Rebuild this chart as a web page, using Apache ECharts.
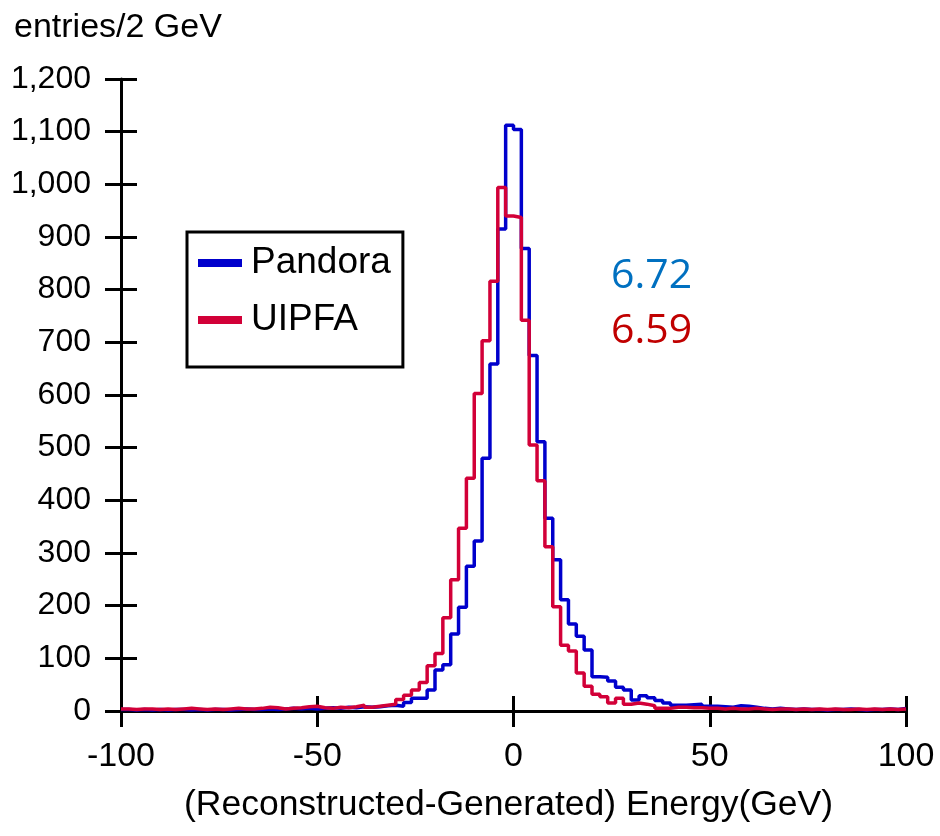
<!DOCTYPE html>
<html>
<head>
<meta charset="utf-8">
<script src="https://cdn.jsdelivr.net/npm/echarts@6/dist/echarts.min.js"></script>
<style>html,body{margin:0;padding:0;background:#fff;}#main{width:940px;height:836px;}</style>
</head>
<body>
<div id="main"></div>
<script>
// Histogram: 2 GeV bins from -100 to 100 GeV
const binStart = -100;
const binWidth = 2;
const xTicks = [-100, -50, 0, 50, 100];
const yTicks = [0, 100, 200, 300, 400, 500, 600, 700, 800, 900, 1000, 1100, 1200];
const seriesNames = ['Pandora', 'UIPFA'];
const resolutions = ['6.72', '6.59'];

const pandora = [
  3, 2, 3, 2, 3, 2, 3, 3, 2, 3,
  2, 3, 3, 2, 3, 4, 3, 3, 4, 3,
  4, 5, 4, 5, 4, 5, 6, 5, 7, 6,
  8, 7, 8, 10, 11, 9, 16, 24, 24, 40,
  78, 88, 146, 197, 275, 323, 480, 659, 915, 1112,
  1104, 878, 675, 511, 366, 287, 211, 165, 142, 116,
  65, 64, 57, 45, 40, 21, 29, 25, 20, 15,
  11, 11, 12, 13, 9, 9, 8, 7, 10, 9,
  7, 5, 4, 5, 4, 3, 4, 3, 3, 2,
  3, 3, 4, 3, 2, 3, 3, 4, 3, 5
];
const uipfa = [
  4, 3, 4, 4, 3, 4, 3, 4, 5, 4,
  3, 4, 3, 4, 5, 4, 4, 5, 7, 6,
  4, 5, 6, 8, 9, 6, 5, 7, 6, 8,
  11, 7, 9, 11, 13, 22, 30, 40, 54, 86,
  109, 177, 249, 347, 442, 603, 703, 816, 994, 940,
  937, 742, 505, 437, 312, 198, 125, 114, 72, 47,
  32, 27, 15, 24, 13, 15, 13, 10, 5, 5,
  7, 7, 6, 6, 5, 5, 4, 5, 4, 4,
  5, 4, 3, 4, 4, 3, 4, 3, 4, 3,
  4, 3, 3, 4, 3, 4, 3, 4, 3, 4
];

function stepData(vals) {
  const pts = vals.map((v, i) => [binStart + i * binWidth, v]);
  pts.push([binStart + vals.length * binWidth, vals[vals.length - 1]]);
  return pts;
}

const FONT = 'Liberation Sans, Arial, sans-serif';
const chart = echarts.init(document.getElementById('main'), null, {renderer: 'canvas'});

const baseX = {
  type: 'value', min: xTicks[0], max: xTicks[xTicks.length - 1], interval: 50,
  position: 'bottom', gridIndex: 0,
  splitLine: {show: false},
  axisLine: {show: true, onZero: false, lineStyle: {color: '#000', width: 3}},
  axisTick: {show: true, inside: false, length: 16, lineStyle: {color: '#000', width: 3}},
  axisLabel: {show: true, margin: 29, color: '#000', fontSize: 34, fontFamily: FONT,
    formatter: v => String(v)}
};
const baseY = {
  type: 'value', min: yTicks[0], max: yTicks[yTicks.length - 1], interval: 100,
  position: 'left', gridIndex: 0,
  splitLine: {show: false},
  axisLine: {show: true, onZero: false, lineStyle: {color: '#000', width: 3}},
  axisTick: {show: true, inside: false, length: 16, lineStyle: {color: '#000', width: 3}},
  axisLabel: {show: true, margin: 30, color: '#000', fontSize: 32, fontFamily: FONT,
    formatter: v => v.toLocaleString('en-US')}
};

const option = {
  backgroundColor: '#fff',
  animation: false,
  grid: {left: 121, right: 34, top: 79, bottom: 125, containLabel: false},
  xAxis: [
    Object.assign({}, baseX, {
      name: '(Reconstructed-Generated) Energy(GeV)',
      nameLocation: 'middle', nameGap: 76,
      nameTextStyle: {color: '#000', fontSize: 35.5, fontFamily: FONT, padding: [0, 10, 0, 0]}
    }),
    Object.assign({}, baseX, {
      axisLine: {show: false, onZero: false},
      axisLabel: {show: false},
      axisTick: {show: true, inside: true, length: 15, lineStyle: {color: '#000', width: 3}}
    })
  ],
  yAxis: [
    baseY,
    Object.assign({}, baseY, {
      axisLine: {show: false, onZero: false},
      axisLabel: {show: false},
      axisTick: {show: true, inside: true, length: 16, lineStyle: {color: '#000', width: 3}}
    })
  ],
  legend: {
    orient: 'vertical', left: 187, top: 232,
    borderColor: '#000', borderWidth: 3,
    padding: [7, 12, 23, 11],
    itemWidth: 44, itemHeight: 8, itemGap: 9,
    icon: 'rect',
    textStyle: {color: '#000', fontSize: 37, fontFamily: FONT, lineHeight: 40, padding: [8, 0, 0, 4]},
    data: seriesNames
  },
  graphic: [
    {type: 'text', x: 14, y: 28, style: {text: 'entries/2 GeV', fill: '#000', fontSize: 34, fontFamily: FONT, verticalAlign: 'middle', align: 'left'}},
    {type: 'text', x: 611, y: 276, style: {text: resolutions[0], fill: '#0070C0', fontSize: 41, fontFamily: 'Open Sans, sans-serif', verticalAlign: 'middle', align: 'left'}},
    {type: 'text', x: 611, y: 331, style: {text: resolutions[1], fill: '#C00000', fontSize: 41, fontFamily: 'Open Sans, sans-serif', verticalAlign: 'middle', align: 'left'}}
  ],
  series: [
    {
      name: seriesNames[0], type: 'line', step: 'end', xAxisIndex: 0, yAxisIndex: 0,
      data: stepData(pandora), symbol: 'none', color: '#0000CC',
      lineStyle: {color: '#0000CC', width: 3.5}, itemStyle: {color: '#0000CC'}
    },
    {
      name: seriesNames[1], type: 'line', step: 'end', xAxisIndex: 0, yAxisIndex: 0,
      data: stepData(uipfa), symbol: 'none', color: '#D20038',
      lineStyle: {color: '#D20038', width: 3.5}, itemStyle: {color: '#D20038'}
    }
  ]
};
chart.setOption(option);
</script>
</body>
</html>
